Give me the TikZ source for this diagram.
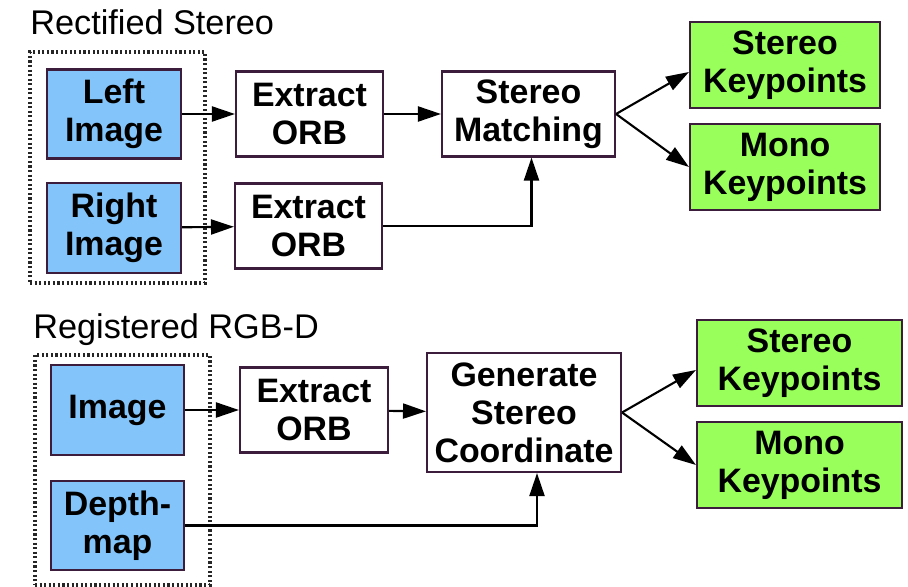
\documentclass[tikz,border=0pt]{standalone}
\usepackage{fontspec}
\setmainfont{Liberation Sans}
\definecolor{inblue}{RGB}{131,197,250}
\definecolor{outgreen}{RGB}{153,255,90}
\definecolor{edgepurple}{RGB}{60,30,60}
\usetikzlibrary{arrows.meta,positioning,calc}

\begin{document}
\begin{tikzpicture}[x=0.02cm, y=-0.02cm,
    every node/.style={font=\fontsize{19.3}{21.6}\selectfont\bfseries, align=center, inner sep=0pt},
    procbox/.style={draw=edgepurple, line width=1.2pt, fill=white},
    inbox/.style={procbox, fill=inblue},
    outbox/.style={procbox, fill=outgreen},
    groupbox/.style={draw=black!85, line width=1.8pt, dash pattern=on 1.2pt off 1.4pt},
    title/.style={font=\fontsize{19.5}{21.6}\selectfont, anchor=base west},
    flow/.style={-{Triangle[length=0.46cm, width=0.3cm]}, line width=1.2pt}]
    \useasboundingbox (0,0) rectangle (908,587);

    % Rectified stereo
    \node[title] (ttlstereo) at (30,35) {Rectified Stereo};
    \node[groupbox, minimum width=3.5cm, minimum height=4.62cm] (grpstereo) at (117.5,167.5) {};
    \node[inbox, minimum width=2.68cm, minimum height=1.78cm] (left) at (114,114) {Left\\Image};
    \node[inbox, minimum width=2.68cm, minimum height=1.8cm] (right) at (114,228) {Right\\Image};
    \node[procbox, minimum width=2.94cm, minimum height=1.7cm] (orbA) at (309.5,114) {Extract\\ORB};
    \node[procbox, minimum width=2.94cm, minimum height=1.7cm] (orbB) at (308.5,226) {Extract\\ORB};
    \node[procbox, minimum width=3.46cm, minimum height=1.7cm] (match) at (528.5,114) {Stereo\\Matching};
    \node[outbox, minimum width=3.8cm, minimum height=1.72cm] (skpA) at (785,65) {Stereo\\Keypoints};
    \node[outbox, minimum width=3.8cm, minimum height=1.72cm] (mkpA) at (785,167) {Mono\\Keypoints};

    \draw[flow] (left) -- (orbA);
    \draw[flow] (orbA) -- (match);
    \draw[flow] (right) -- (orbB);
    \draw[flow] (orbB.east) -| ([xshift=0.06cm]match.south);
    \draw[flow] (match.east) -- ([yshift=-0.14cm]skpA.west);
    \draw[flow] (match.east) -- (mkpA.west);

    % Registered RGB-D
    \node[title] (ttlrgbd) at (33,338) {Registered RGB-D};
    \node[groupbox, minimum width=3.5cm, minimum height=4.6cm] (grprgbd) at (122.5,470) {};
    \node[inbox, minimum width=2.66cm, minimum height=1.8cm] (img) at (117.5,410) {Image};
    \node[inbox, minimum width=2.66cm, minimum height=1.78cm] (depth) at (117.5,525.5) {Depth-\\map};
    \node[procbox, minimum width=2.96cm, minimum height=1.7cm] (orbC) at (314,410) {Extract\\ORB};
    \node[procbox, minimum width=3.88cm, minimum height=2.38cm] (gen) at (524,412.5) {Generate\\Stereo\\Coordinate};
    \node[outbox, minimum width=4.1cm, minimum height=1.72cm] (skpB) at (799.5,363) {Stereo\\Keypoints};
    \node[outbox, minimum width=4.1cm, minimum height=1.72cm] (mkpB) at (799.5,465) {Mono\\Keypoints};

    \draw[flow] (img) -- (orbC);
    \draw[flow] (orbC) -- (gen);
    \draw[flow] (depth.east) -| ([xshift=0.26cm]gen.south);
    \draw[flow] (gen.east) -- ([yshift=-0.14cm]skpB.west);
    \draw[flow] (gen.east) -- (mkpB.west);
\end{tikzpicture}
\end{document}
